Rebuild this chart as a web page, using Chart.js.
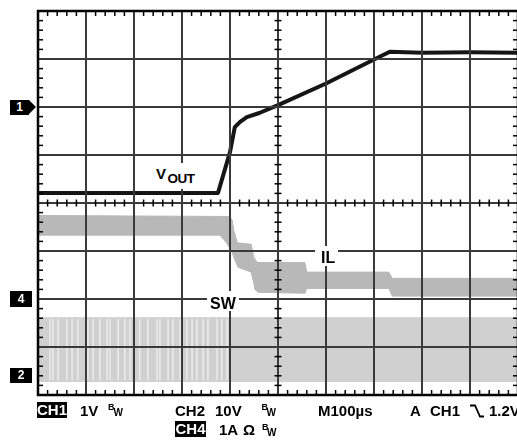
<!DOCTYPE html>
<html><head><meta charset="utf-8">
<script src="https://cdn.jsdelivr.net/npm/chart.js@4/dist/chart.umd.min.js"></script>
<style>
html,body{margin:0;padding:0;background:#fff;overflow:hidden;}
#wrap{position:relative;width:517px;height:441px;overflow:hidden;font-family:"Liberation Sans",Arial,sans-serif;font-weight:bold;color:#000;}
canvas{position:absolute;left:0;top:0;}
.t{position:absolute;font-size:15px;line-height:15px;white-space:nowrap;}
.s9{font-size:9px;line-height:9px;}
.s10{font-size:10px;line-height:10px;}
.inv{background:#000;color:#fff;height:16px;line-height:16px;text-align:center;}
.box{position:absolute;background:#fff;}
.mk{position:absolute;background:#000;color:#fff;font-size:12px;line-height:15px;text-align:center;}
.tri{position:absolute;width:0;height:0;border-left:7px solid #000;border-top:7.5px solid transparent;border-bottom:7.5px solid transparent;}
</style></head>
<body><div id="wrap">
<canvas id="c" width="520" height="441" style="width:520px;height:441px"></canvas>

<!-- trace labels (white boxes break the graticule like on the scope) -->
<div class="box" style="left:152px;top:163px;width:46px;height:26px"></div>
<div class="t" style="left:156px;top:165.8px">V</div>
<div class="t" style="left:167.5px;top:172px;font-size:13.5px;line-height:13.5px;letter-spacing:-0.5px">OUT</div>

<div class="box" style="left:315px;top:246px;width:23px;height:20px"></div>
<div class="t" style="left:321px;top:250px;font-size:16px;line-height:16px">IL</div>

<div class="box" style="left:207px;top:291px;width:32px;height:20px"></div>
<div class="t" style="left:210px;top:295.5px;font-size:16px;line-height:16px">SW</div>

<!-- channel markers -->
<div class="mk" style="left:10px;top:100px;width:19px;height:15px">1</div>
<div class="tri" style="left:29px;top:100px"></div>
<div class="mk" style="left:10px;top:291px;width:22px;height:16px;line-height:16px">4</div>
<div class="mk" style="left:10px;top:368px;width:22px;height:15px">2</div>

<!-- readout line 1 -->
<div class="t inv" style="left:37px;top:402px;width:30px">CH1</div>
<div class="t" style="left:80px;top:402.6px">1V</div>
<div class="t s9" style="left:108px;top:403px">B</div>
<div class="t s10" style="left:113.5px;top:407.5px">W</div>
<div class="t" style="left:175px;top:402.6px">CH2</div>
<div class="t" style="left:215px;top:402.6px">10V</div>
<div class="t s9" style="left:261.5px;top:403px">B</div>
<div class="t s10" style="left:266.5px;top:407.5px">W</div>
<div class="t" style="left:318px;top:402.6px">M100µs</div>
<div class="t" style="left:410px;top:402.6px">A</div>
<div class="t" style="left:430px;top:402.6px">CH1</div>
<svg style="position:absolute;left:469px;top:404px" width="16" height="14"><polyline points="1,1.5 6,1.5 11,12.5 15,12.5" fill="none" stroke="#000" stroke-width="1.8"/></svg>
<div class="t" style="left:489px;top:402.6px">1.2V</div>
<!-- readout line 2 -->
<div class="t inv" style="left:175px;top:421px;width:31px">CH4</div>
<div class="t" style="left:219px;top:422.3px">1A</div>
<div class="t" style="left:243px;top:422.3px">Ω</div>
<div class="t s9" style="left:262px;top:423px">B</div>
<div class="t s10" style="left:267px;top:427.5px">W</div>
</div>
<script>
// Time axis: 100 µs/div, 10 divisions. Vertical axis in screen divisions (0 = bottom, 8 = top).
const xDivisions = 10;
const yDivisions = 8;
const usPerDiv = 100;

// CH1 — VOUT trace
const voutTime = [0, 375, 400, 410, 421, 435, 461, 500, 600, 700, 733, 800, 900, 1000];
const voutDiv  = [4.21, 4.21, 5.06, 5.58, 5.69, 5.79, 5.875, 6.04, 6.49, 6.99, 7.15, 7.13, 7.14, 7.13];

// CH4 — inductor current envelope (upper / lower edge)
const ilTime  = [0, 379, 392, 396, 404, 408, 415, 417, 444, 450, 452, 458, 556, 560, 731, 738, 1000];
const ilUpper = [3.74, 3.72, 3.72, 3.72, 3.66, 3.43, 3.18, 3.17, 3.14, 2.85, 2.82, 2.76, 2.76, 2.56, 2.56, 2.43, 2.43];
const ilLower = [3.33, 3.33, 3.18, 3.12, 2.99, 2.87, 2.70, 2.66, 2.56, 2.31, 2.20, 2.14, 2.12, 2.22, 2.22, 2.06, 2.06];

// CH2 — switch node envelope and visible pulse-skipping gaps
const swTime  = [0, 1000];
const swUpper = [1.61, 1.61];
const swLower = [0.28, 0.28];
const swGapTime = [25, 31, 42, 60, 71, 83, 104, 115, 129, 144, 150, 167, 181, 192, 212, 229, 248, 254, 271, 281, 296, 310, 321, 331, 344, 354, 373, 383, 394];
const swGapRange = [0.32, 1.57];

const pts = (xs, ys) => xs.map((x, i) => ({x, y: ys[i]}));

const scopeGrid = {
  id: 'scopeGrid',
  afterDatasetsDraw(chart) {
    const {ctx, chartArea: a, scales: {x, y}} = chart;
    const seg = (x1, y1, x2, y2) => { ctx.beginPath(); ctx.moveTo(x1, y1); ctx.lineTo(x2, y2); ctx.stroke(); };
    ctx.save();
    ctx.strokeStyle = '#3a3a3a'; ctx.lineWidth = 2;
    for (let i = 1; i < xDivisions; i++) { const px = x.getPixelForValue(i * usPerDiv); seg(px, a.top, px, a.bottom); }
    for (let j = 1; j < yDivisions; j++) { const py = y.getPixelForValue(j); seg(a.left, py, a.right, py); }
    const cx = x.getPixelForValue(xDivisions / 2 * usPerDiv), cy = y.getPixelForValue(yDivisions / 2);
    ctx.strokeStyle = '#000'; ctx.lineWidth = 1.5;
    for (let i = 1; i < xDivisions * 5; i++) {
      if (i % 5 === 0) continue;
      const px = x.getPixelForValue(i * usPerDiv / 5);
      seg(px, a.top, px, a.top + 5);
      seg(px, a.bottom - 5, px, a.bottom);
      seg(px, cy - 3.5, px, cy + 3.5);
    }
    for (let j = 1; j < yDivisions * 5; j++) {
      if (j % 5 === 0) continue;
      const py = y.getPixelForValue(j / 5);
      seg(a.left, py, a.left + 5, py);
      seg(a.right - 5, py, a.right, py);
      seg(cx - 3.5, py, cx + 3.5, py);
    }
    ctx.lineWidth = 2.5;
    ctx.strokeRect(a.left, a.top, a.right - a.left, a.bottom - a.top);
    ctx.restore();
  }
};

new Chart(document.getElementById('c'), {
  type: 'line',
  data: {
    datasets: [
      {label: 'SW top', data: pts(swTime, swUpper), borderColor: '#d0d0d0', borderWidth: 1, pointRadius: 0, fill: false, order: 6},
      {label: 'SW', data: pts(swTime, swLower), borderColor: '#d0d0d0', backgroundColor: '#d0d0d0', borderWidth: 1, pointRadius: 0, fill: '-1', order: 5},
      {type: 'bar', label: 'SW gaps', data: swGapTime.map(t => ({x: t, y: swGapRange})), backgroundColor: 'rgba(255,255,255,0.55)', barThickness: 1, order: 4},
      {label: 'IL top', data: pts(ilTime, ilUpper), borderColor: '#b8b8b8', borderWidth: 1, pointRadius: 0, fill: false, order: 3},
      {label: 'IL', data: pts(ilTime, ilLower), borderColor: '#b8b8b8', backgroundColor: '#b8b8b8', borderWidth: 1, pointRadius: 0, fill: '-1', order: 2},
      {label: 'VOUT', data: pts(voutTime, voutDiv), borderColor: '#151515', borderWidth: 4, pointRadius: 0, fill: false, order: 1, borderJoinStyle: 'round'}
    ]
  },
  options: {
    responsive: false, animation: false, devicePixelRatio: 1,
    layout: {padding: {left: 38, top: 11, right: 2, bottom: 46}},
    scales: {
      x: {type: 'linear', min: 0, max: xDivisions * usPerDiv, display: false, offset: false},
      y: {type: 'linear', min: 0, max: yDivisions, display: false}
    },
    elements: {line: {tension: 0}},
    plugins: {legend: {display: false}, tooltip: {enabled: false}}
  },
  plugins: [scopeGrid]
});
</script>
</body></html>
